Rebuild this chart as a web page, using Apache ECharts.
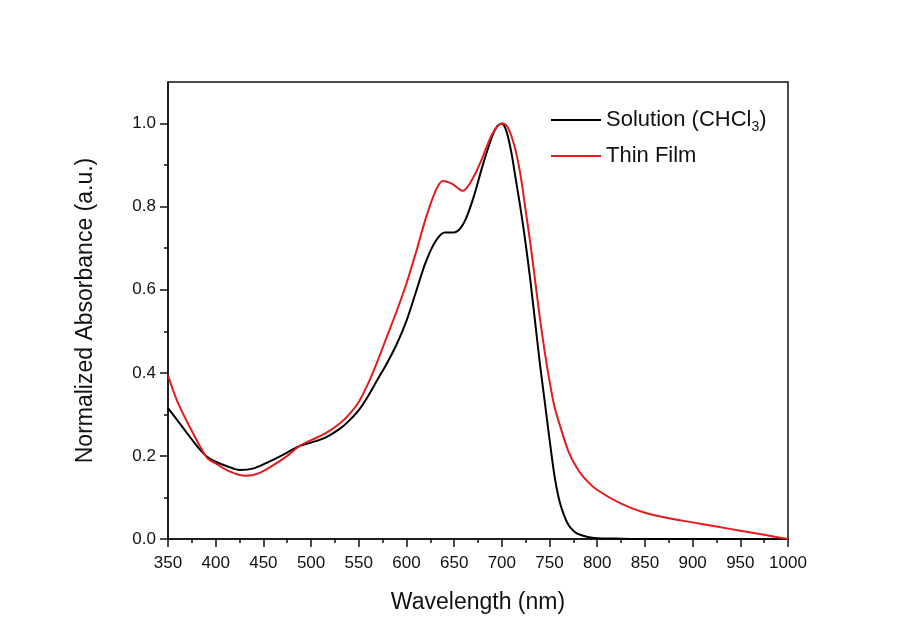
<!DOCTYPE html>
<html>
<head>
<meta charset="utf-8">
<script src="https://cdn.jsdelivr.net/npm/echarts@6/dist/echarts.min.js"></script>
<style>
  html, body { margin: 0; padding: 0; background: #fff; }
  #chart { width: 904px; height: 637px; }
</style>
</head>
<body>
<div id="chart"></div>
<script>
// solution (CHCl3) spectrum
const solWl = [350, 365, 380, 391, 400, 412, 425, 440, 455, 470, 488, 500, 515, 530, 540, 550, 560, 570, 580, 590, 600, 610, 620, 630, 640, 650, 660, 670, 680, 690, 695, 700, 705, 710, 715, 720, 725, 730, 735, 740, 745, 750, 755, 760, 765, 770, 775, 780, 790, 800, 820, 850, 900, 1000];
const solAbs = [0.315, 0.27, 0.225, 0.198, 0.186, 0.175, 0.166, 0.17, 0.185, 0.202, 0.224, 0.232, 0.244, 0.265, 0.285, 0.31, 0.345, 0.385, 0.425, 0.47, 0.525, 0.595, 0.665, 0.715, 0.738, 0.738, 0.76, 0.82, 0.9, 0.97, 0.993, 1.0, 0.98, 0.93, 0.86, 0.79, 0.71, 0.62, 0.52, 0.42, 0.33, 0.24, 0.155, 0.095, 0.058, 0.033, 0.02, 0.012, 0.005, 0.002, 0.001, 0.0, 0.0, 0.0];

// thin film spectrum
const filmWl = [350, 360, 375, 391, 400, 415, 431, 445, 460, 475, 488, 500, 515, 530, 540, 550, 560, 570, 580, 590, 600, 610, 620, 630, 638, 648, 659, 670, 680, 690, 700, 705, 710, 715, 720, 725, 730, 735, 740, 745, 750, 755, 760, 770, 780, 790, 800, 825, 850, 875, 900, 925, 950, 975, 1000];
const filmAbs = [0.394, 0.33, 0.26, 0.195, 0.182, 0.162, 0.152, 0.158, 0.177, 0.2, 0.224, 0.238, 0.254, 0.278, 0.3, 0.33, 0.375, 0.43, 0.49, 0.55, 0.615, 0.69, 0.77, 0.835, 0.862, 0.855, 0.838, 0.87, 0.92, 0.975, 1.0, 0.995, 0.97, 0.93, 0.87, 0.79, 0.71, 0.62, 0.53, 0.45, 0.38, 0.32, 0.28, 0.21, 0.166, 0.138, 0.118, 0.085, 0.063, 0.05, 0.04, 0.03, 0.02, 0.01, 0.0];

const xTicks = { min: 350, max: 1000, step: 50 };
const yMajor = [0, 0.2, 0.4, 0.6, 0.8, 1.0];
const yMinor = [0.1, 0.3, 0.5, 0.7, 0.9];
const yMax = 1.1;

const chart = echarts.init(document.getElementById("chart"));
const font = "Liberation Sans, Arial, sans-serif";
const lineIcon = "path://M0,0 L52,0 L52,2 L0,2 Z";
const ink = "#111";

const option = {
  backgroundColor: "#fff",
  animation: false,
  grid: {
    left: 168,
    right: 116,
    top: 82,
    bottom: 98,
    show: true,
    borderColor: ink,
    borderWidth: 1.5,
  },
  legend: {
    orient: "vertical",
    left: 546,
    top: 104,
    itemGap: 11,
    itemWidth: 50,
    itemHeight: 2,
    icon: lineIcon,
    textStyle: {
      fontFamily: font,
      fontSize: 22,
      color: ink,
      rich: {
        sub: { fontFamily: font, fontSize: 14, color: ink, padding: [14, 0, 0, 0] },
      },
    },
    formatter: (name) => name === "Solution (CHCl3)" ? "Solution (CHCl{sub|3})" : name,
    data: ["Solution (CHCl3)", "Thin Film"],
  },
  xAxis: {
    type: "value",
    min: xTicks.min,
    max: xTicks.max,
    interval: xTicks.step,
    name: "Wavelength (nm)",
    nameLocation: "middle",
    nameGap: 52,
    nameTextStyle: { fontFamily: font, fontSize: 23, color: ink },
    axisLine: { lineStyle: { color: ink, width: 1.5 } },
    axisTick: { length: 8, lineStyle: { color: ink, width: 1.5 } },
    minorTick: { show: true, splitNumber: 2, length: 4, lineStyle: { color: ink, width: 1.5 } },
    axisLabel: {
      fontFamily: font, fontSize: 17, color: ink, margin: 16,
      formatter: (v) => String(v),
    },
    splitLine: { show: false },
  },
  yAxis: [
    {
      type: "value",
      min: 0,
      max: yMax,
      interval: 0.2,
      name: "Normalized Absorbance (a.u.)",
      nameLocation: "middle",
      nameGap: 71,
      nameTextStyle: { fontFamily: font, fontSize: 23, color: ink },
      axisLine: { lineStyle: { color: ink, width: 1.5 } },
      axisTick: { length: 8, customValues: yMajor, lineStyle: { color: ink, width: 1.5 } },
      axisLabel: {
        fontFamily: font, fontSize: 17, color: ink, margin: 12,
        customValues: yMajor,
        formatter: (v) => v.toFixed(1),
      },
      splitLine: { show: false },
    },
    {
      // minor ticks only
      type: "value",
      position: "left",
      min: 0,
      max: yMax,
      axisLine: { show: false },
      axisTick: { length: 4, customValues: yMinor, lineStyle: { color: ink, width: 1.5 } },
      axisLabel: { show: false },
      splitLine: { show: false },
    },
  ],
  series: [
    {
      name: "Solution (CHCl3)",
      type: "line",
      smooth: 0.3,
      showSymbol: false,
      symbol: "none",
      lineStyle: { color: "#000", width: 2 },
      itemStyle: { color: "#000" },
      data: solWl.map((w, i) => [w, solAbs[i]]),
    },
    {
      name: "Thin Film",
      type: "line",
      smooth: 0.3,
      showSymbol: false,
      symbol: "none",
      lineStyle: { color: "#e41a1c", width: 2 },
      itemStyle: { color: "#e41a1c" },
      data: filmWl.map((w, i) => [w, filmAbs[i]]),
    },
  ],
};

chart.setOption(option);
</script>
</body>
</html>
